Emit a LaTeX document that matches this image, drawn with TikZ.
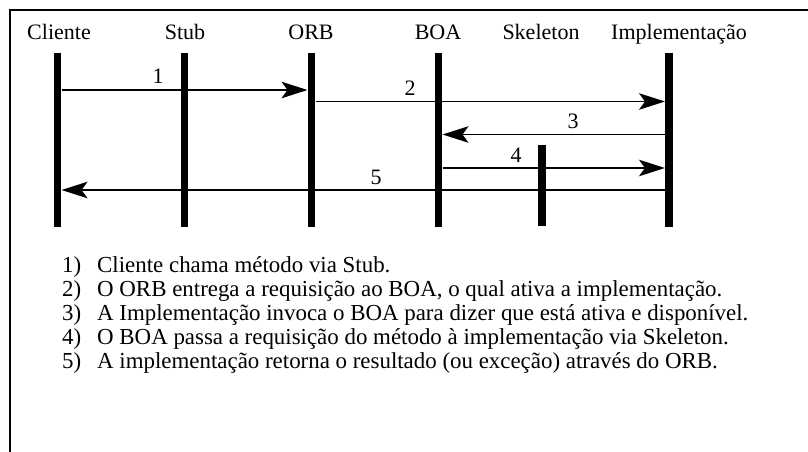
\documentclass[tikz,border=0pt]{standalone}
\usepackage{fontspec}
\setmainfont{Liberation Serif}
\usetikzlibrary{arrows.meta}
\begin{document}
\begin{tikzpicture}[x=1pt,y=-1pt,
  hdr/.style={font=\fontsize{22}{24}\selectfont, anchor=base, inner sep=0pt},
  lbl/.style={font=\fontsize{22}{24}\selectfont, anchor=base, inner sep=0pt},
  life/.style={line width=7.5pt},
  msg/.style={line width=1.4pt, -{Stealth[length=26pt,width=16.5pt,inset=6pt]}},
  num/.style={font=\fontsize{22.9}{24}\selectfont, anchor=base west, inner sep=0pt},
  item/.style={font=\fontsize{22.9}{24}\selectfont, anchor=base west, inner sep=0pt}]
\useasboundingbox (0,0) rectangle (808,452);
\draw[line width=2pt] (10,452) -- (10,10) -- (808,10);
% headers
\node[hdr] (hC) at (59,40) {Cliente};
\node[hdr] (hS) at (185,40) {Stub};
\node[hdr] (hO) at (311,40) {ORB};
\node[hdr] (hB) at (438,40) {BOA};
\node[hdr] (hK) at (541,40) {Skeleton};
\node[hdr] (hI) at (679,40) {Implementação};
% lifelines
\coordinate (cT) at (57.5,53); \coordinate (cB) at (57.5,227);
\coordinate (sT) at (184.5,53); \coordinate (sB) at (184.5,227);
\coordinate (oT) at (311.5,53); \coordinate (oB) at (311.5,227);
\coordinate (bT) at (438.5,53); \coordinate (bB) at (438.5,227);
\coordinate (kT) at (542,145); \coordinate (kB) at (542,226);
\coordinate (iT) at (669,53); \coordinate (iB) at (669,227);
\draw[life] (cT) -- (cB);
\draw[life] (sT) -- (sB);
\draw[life] (oT) -- (oB);
\draw[life] (bT) -- (bB);
\draw[life] (kT) -- (kB);
\draw[life] (iT) -- (iB);
% message end points
\coordinate (m1a) at (61.5,90);  \coordinate (m1b) at (307.5,90);
\coordinate (m2a) at (315.5,101.5); \coordinate (m2b) at (665,101.5);
\coordinate (m3a) at (665,134.5); \coordinate (m3b) at (442.5,134.5);
\coordinate (m4a) at (442.5,168); \coordinate (m4b) at (665,168);
\coordinate (m5a) at (665,190); \coordinate (m5b) at (61.5,190);
\draw[msg] (m1a) -- (m1b);
\draw[msg] (m2a) -- (m2b);
\draw[msg] (m3a) -- (m3b);
\draw[msg] (m4a) -- (m4b);
\draw[msg] (m5a) -- (m5b);
\node[lbl] (l1) at (158,83) {1};
\node[lbl] (l2) at (410,95) {2};
\node[lbl] (l3) at (573,128) {3};
\node[lbl] (l4) at (516,162) {4};
\node[lbl] (l5) at (376,184) {5};
% list
\node[num] (n1) at (62,272) {1)};
\node[num] (n2) at (62,296) {2)};
\node[num] (n3) at (62,320) {3)};
\node[num] (n4) at (62,344) {4)};
\node[num] (n5) at (62,368) {5)};
\node[item] (t1) at (97,272) {Cliente chama método via Stub.};
\node[item] (t2) at (97,296) {O ORB entrega a requisição ao BOA, o qual ativa a implementação.};
\node[item] (t3) at (97,320) {A Implementação invoca o BOA para dizer que está ativa e disponível.};
\node[item] (t4) at (97,344) {O BOA passa a requisição do método à implementação via Skeleton.};
\node[item] (t5) at (97,368) {A implementação retorna o resultado (ou exceção) através do ORB.};
\end{tikzpicture}
\end{document}
